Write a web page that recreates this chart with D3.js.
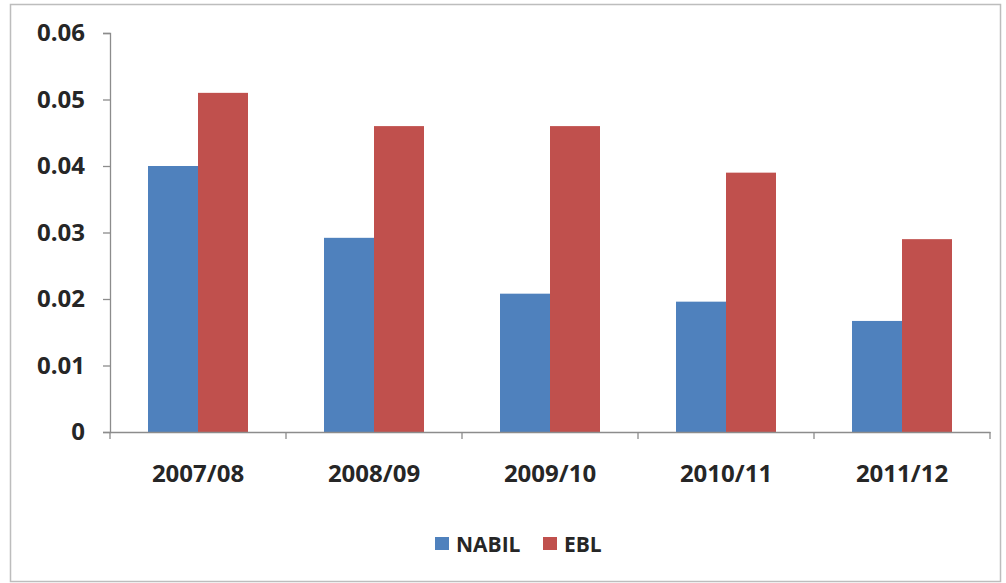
<!DOCTYPE html>
<html>
<head>
<meta charset="utf-8">
<script src="https://cdn.jsdelivr.net/npm/d3@7"></script>
<style>
  body { margin: 0; background: #fff; }
  text { font-family: "Open Sans", "DejaVu Sans", sans-serif; font-weight: 700; fill: #262626; }
</style>
</head>
<body>
<div id="chart"></div>
<script>
const years = ["2007/08", "2008/09", "2009/10", "2010/11", "2011/12"];
const series = ["NABIL", "EBL"];
const nabil = [0.040, 0.0292, 0.0208, 0.0196, 0.0167];
const ebl = [0.051, 0.046, 0.046, 0.039, 0.029];
const yTicks = [0, 0.01, 0.02, 0.03, 0.04, 0.05, 0.06];
const colors = ["#4F81BD", "#C0504D"];

const rows = years.map((yr, i) => ({ year: yr, NABIL: nabil[i], EBL: ebl[i] }));

const width = 1006;
const height = 583;

const svg =
    d3.select("#chart")
      .append("svg")
      .attr("width", width)
      .attr("height", height);

// outer frame
svg.append("rect")
   .attr("x", 10.5)
   .attr("y", 4.5)
   .attr("width", 990)
   .attr("height", 577)
   .attr("fill", "#fff")
   .attr("stroke", "#bdbdbd")
   .attr("stroke-width", 1.5);

const x0 =
    d3.scaleBand()
      .domain(years)
      .range([110, 990])
      .padding(0);

const x1 =
    d3.scaleBand()
      .domain(series)
      .range([0, x0.bandwidth()])
      .paddingInner(0)
      .paddingOuter(0.76);

const y =
    d3.scaleLinear()
      .domain([0, 0.06])
      .range([432, 33]);

const color =
    d3.scaleOrdinal()
      .domain(series)
      .range(colors);

// bars
svg.append("g")
   .selectAll("g")
   .data(rows)
   .enter()
   .append("g")
   .attr("transform", d => "translate(" + x0(d.year) + ",0)")
   .selectAll("rect")
   .data(d => series.map(s => ({ key: s, value: d[s] })))
   .enter()
   .append("rect")
   .attr("x", d => x1(d.key))
   .attr("y", d => y(d.value))
   .attr("width", x1.bandwidth())
   .attr("height", d => y(0) - y(d.value))
   .attr("fill", d => color(d.key));

// y axis
const yAxis =
    svg.append("g")
       .attr("transform", "translate(110,0)")
       .call(
           d3.axisLeft(y)
             .tickValues(yTicks)
             .tickFormat(d => d === 0 ? "0" : d3.format(".2f")(d))
             .tickSize(7)
             .tickPadding(18)
       );

// x axis
const xAxis =
    svg.append("g")
       .attr("transform", "translate(0,432)")
       .call(
           d3.axisBottom(x0)
             .tickSize(0)
             .tickPadding(33)
       );

svg.append("g")
   .selectAll("line")
   .data(years.concat(["end"]))
   .enter()
   .append("line")
   .attr("x1", (d, i) => 110 + i * x0.step())
   .attr("x2", (d, i) => 110 + i * x0.step())
   .attr("y1", 432)
   .attr("y2", 439)
   .attr("stroke", "#8c8c8c")
   .attr("stroke-width", 1.3);

[yAxis, xAxis].forEach(a => {
    a.selectAll("path, line")
     .attr("stroke", "#8c8c8c")
     .attr("stroke-width", 1.3);
    a.selectAll("text")
     .attr("font-size", 24)
     .attr("font-family", "'Open Sans', sans-serif")
     .attr("font-weight", 700)
     .attr("fill", "#262626");
});

// legend
const legend =
    svg.append("g")
       .attr("transform", "translate(435,537)");

const legendX = [0, 108];

legend.selectAll("rect")
      .data(series)
      .enter()
      .append("rect")
      .attr("x", (d, i) => legendX[i])
      .attr("y", 0)
      .attr("width", 14)
      .attr("height", 13)
      .attr("fill", d => color(d));

legend.selectAll("text")
      .data(series)
      .enter()
      .append("text")
      .attr("x", (d, i) => legendX[i] + 21)
      .attr("y", 15)
      .attr("font-size", 21)
      .text(d => d);
</script>
</body>
</html>
